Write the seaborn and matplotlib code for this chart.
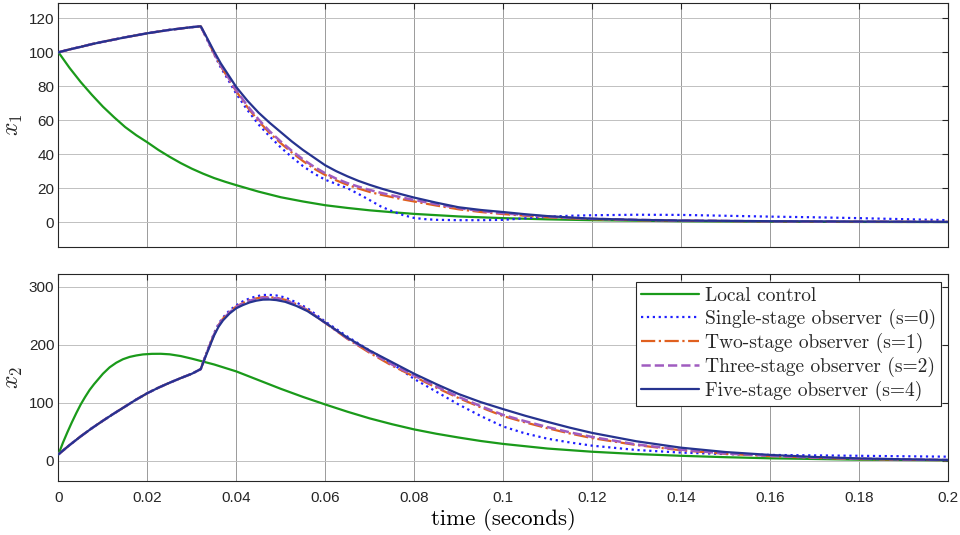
import matplotlib
matplotlib.use("Agg")
import matplotlib.pyplot as plt
import numpy as np
import pandas as pd
import seaborn as sns

# ---------------- data ----------------
x_ticks = [0, 0.02, 0.04, 0.06, 0.08, 0.1, 0.12, 0.14, 0.16, 0.18, 0.2]
x_tick_labels = ["0", "0.02", "0.04", "0.06", "0.08", "0.1", "0.12", "0.14", "0.16", "0.18", "0.2"]
y1_ticks = [0, 20, 40, 60, 80, 100, 120]
y2_ticks = [0, 100, 200, 300]

series_names = ["Local control", "Single-stage observer (s=0)", "Two-stage observer (s=1)",
                "Three-stage observer (s=2)", "Five-stage observer (s=4)"]

# local control, state x1
t_local1 = [0, 0.0025, 0.005, 0.0075, 0.01, 0.0125, 0.015, 0.0175, 0.02, 0.0225, 0.025,
            0.0275, 0.03, 0.0325, 0.035, 0.0375, 0.04, 0.045, 0.05, 0.055, 0.06, 0.065,
            0.07, 0.075, 0.08, 0.09, 0.1, 0.11, 0.12, 0.14, 0.16, 0.18, 0.2]
x1_local = [100, 90.8, 82.5, 75, 68, 61.8, 56, 51.2, 47, 42.5, 38.5,
            34.8, 31.5, 28.6, 26, 23.8, 21.8, 18, 14.7, 12.2, 10, 8.4,
            7.0, 5.9, 4.9, 3.4, 2.4, 1.7, 1.2, 0.6, 0.3, 0.15, 0.1]

# local control, state x2
t_local2 = [0, 0.001, 0.002, 0.003, 0.004, 0.005, 0.006, 0.007, 0.008, 0.009, 0.01,
            0.0115, 0.013, 0.0145, 0.016, 0.0175, 0.019, 0.021, 0.023, 0.025, 0.0275,
            0.03, 0.0325, 0.035, 0.0375, 0.04, 0.045, 0.05, 0.055, 0.06, 0.065, 0.07,
            0.075, 0.08, 0.085, 0.09, 0.095, 0.1, 0.11, 0.12, 0.13, 0.14, 0.15, 0.16,
            0.18, 0.2]
x2_local = [11, 31, 49, 66, 82, 97, 110, 122, 132, 141, 150,
            161, 169, 175, 179, 181.5, 183.3, 184.3, 184.4, 183.5, 180.5,
            176, 171, 166, 160, 154, 139, 124, 110, 97, 84.5, 73,
            63, 54, 46.5, 40, 34, 29, 21, 15.5, 11.5, 8.5, 6.1, 4.2,
            1.8, 0.7]

# observers: common part before the switch
t_pre = [0, 0.0025, 0.005, 0.0075, 0.01, 0.0125, 0.015, 0.0175, 0.02, 0.0225, 0.025,
         0.0275, 0.03, 0.032]
x1_pre = [100, 101.7, 103.2, 104.8, 106.2, 107.5, 108.8, 110, 111.2, 112.2, 113.2,
          114, 114.8, 115.3]
x2_pre = [11, 27, 42, 56, 69, 81.5, 93.5, 105.5, 116.5, 126, 134.5,
          142.5, 150, 158]

# observers after the switch, state x1
t_post1 = [0.033, 0.034, 0.035, 0.0365, 0.038, 0.04, 0.0425, 0.045, 0.0475, 0.05, 0.0525,
           0.055, 0.0575, 0.06, 0.0625, 0.065, 0.0675, 0.07, 0.0725, 0.075, 0.0775, 0.08,
           0.085, 0.09, 0.095, 0.1, 0.105, 0.11, 0.115, 0.12, 0.13, 0.14, 0.16, 0.18, 0.2]
x1_two = [110, 104.6, 99.2, 91.8, 85.5, 77, 67.7, 59.5, 52.5, 46.5, 41,
          36, 31.5, 27.8, 24.6, 22, 19.8, 17.8, 16.2, 14.8, 13.4, 12.2,
          9.8, 7.6, 6, 4.8, 3.8, 2.9, 2.3, 1.8, 1.2, 0.9, 0.5, 0.3, 0.2]
x1_three = [110, 104.8, 99.5, 92.3, 86, 77.5, 68.5, 60.5, 53.5, 47.5, 42,
            37, 32.6, 28.8, 25.6, 23, 20.9, 19, 17.3, 15.8, 14.4, 13.1,
            10.6, 8.3, 6.6, 5.3, 4.2, 3.3, 2.6, 2, 1.4, 1, 0.5, 0.3, 0.2]
x1_five = [110.5, 105.5, 100.5, 93.5, 87.5, 79.5, 71.5, 64.5, 58.5, 53, 47.5,
           42.5, 38, 33.5, 30, 27, 24.3, 22, 19.9, 18, 16.2, 14.5,
           11.5, 8.8, 7.2, 6, 4.7, 3.6, 2.8, 2.1, 1.4, 1, 0.6, 0.4, 0.2]
t_single1 = [0.033, 0.034, 0.035, 0.0365, 0.038, 0.04, 0.0425, 0.045, 0.0475, 0.05, 0.0525,
             0.055, 0.0575, 0.06, 0.0625, 0.065, 0.0675, 0.07, 0.0725, 0.075, 0.0775, 0.08,
             0.0825, 0.085, 0.09, 0.095, 0.1, 0.105, 0.11, 0.115, 0.12, 0.13, 0.14, 0.15,
             0.16, 0.17, 0.18, 0.19, 0.2]
x1_single = [109.8, 104.3, 98.8, 91, 84.5, 75.5, 66, 57.5, 50.5, 44, 38.3,
             33, 28.6, 25, 22.5, 20, 16.6, 13, 9.3, 6.5, 4.2, 2.5,
             1.8, 1.4, 1.2, 1.2, 1.4, 2.3, 3.2, 3.8, 4.1, 4.4, 4.3, 3.8,
             3.3, 2.9, 2.4, 1.8, 1.2]

# observers after the switch, state x2
t_post2 = [0.033, 0.034, 0.035, 0.036, 0.037, 0.0385, 0.04, 0.0415, 0.043, 0.0445, 0.046,
           0.0475, 0.049, 0.051, 0.0535, 0.056, 0.06, 0.065, 0.07, 0.075, 0.08, 0.085,
           0.09, 0.095, 0.1, 0.105, 0.11, 0.115, 0.12, 0.13, 0.14, 0.15, 0.16, 0.17,
           0.18, 0.19, 0.2]
x2_single = [180, 200, 220, 236, 247, 259.5, 268, 275, 280, 283.5, 285.8,
             286, 285, 281.5, 273, 263, 240, 214, 190, 168, 141, 119,
             97, 77, 59, 47, 38, 31.5, 26, 18.5, 14, 11.5, 10, 9.2,
             8.5, 7.7, 7]
x2_two = [179.5, 199, 218.5, 234, 245, 257, 266, 272, 277, 280, 282,
          282, 281, 277.5, 270, 260, 237.5, 210, 186, 164, 145, 126,
          108, 92, 77, 66, 56, 47, 39, 27, 18, 12, 8, 5,
          3, 1.8, 1]
x2_three = [179, 198.5, 218, 233, 244, 256, 265, 271, 276, 279, 281,
            281, 280, 276.5, 269, 259.5, 238, 211, 188, 166, 147, 128,
            110, 94, 79, 68, 58, 49, 41, 28, 19, 12.5, 8.5, 5.5,
            3.5, 2.2, 1.2]
x2_five = [178, 197, 216, 231, 242, 254, 263, 268.5, 273, 276, 277.8,
           278, 277, 274, 267, 258, 238, 212, 190, 170, 150, 132,
           115, 101, 89, 77.5, 67, 57, 48, 33.5, 22.5, 15, 10, 6.5,
           4, 2.5, 1.5]

# ---------------- style ----------------
colors = ["#1a9a1a", "#1f1fff", "#e0601f", "#a05cc0", "#26338f"]
styles = ["-", ":", "-.", "--", "-"]
widths = [1.6, 1.6, 1.6, 1.8, 1.6]

sns.set_theme(style="white")
plt.rcParams["font.family"] = ["Liberation Sans", "DejaVu Sans"]
plt.rcParams["mathtext.fontset"] = "cm"
plt.rcParams["axes.unicode_minus"] = False

fig = plt.figure(figsize=(9.6, 5.35), dpi=100)
ax1 = fig.add_axes([0.0609, 0.5389, 0.9263, 0.4561])
ax2 = fig.add_axes([0.0609, 0.1009, 0.9263, 0.3863])


def series_frame(t, v):
    return pd.DataFrame({"t": t, "v": v})


top = [
    series_frame(t_local1, x1_local),
    series_frame(t_pre + t_single1, x1_pre + x1_single),
    series_frame(t_pre + t_post1, x1_pre + x1_two),
    series_frame(t_pre + t_post1, x1_pre + x1_three),
    series_frame(t_pre + t_post1, x1_pre + x1_five),
]
bottom = [
    series_frame(t_local2, x2_local),
    series_frame(t_pre + t_post2, x2_pre + x2_single),
    series_frame(t_pre + t_post2, x2_pre + x2_two),
    series_frame(t_pre + t_post2, x2_pre + x2_three),
    series_frame(t_pre + t_post2, x2_pre + x2_five),
]

for ax, frames in ((ax1, top), (ax2, bottom)):
    for i, df in enumerate(frames):
        sns.lineplot(data=df, x="t", y="v", ax=ax, color=colors[i], linestyle=styles[i],
                     linewidth=widths[i], label=series_names[i], estimator=None,
                     sort=False, legend=False, zorder=3 + i)

frame_col = "#262626"
for ax in (ax1, ax2):
    ax.set_xlim(0, 0.2)
    ax.set_xticks(x_ticks)
    ax.grid(True, axis="x", color="#9a9a9a", linewidth=0.7)
    ax.grid(True, axis="y", color="#c0c0c0", linewidth=0.7)
    ax.set_axisbelow(True)
    for s in ax.spines.values():
        s.set_visible(True)
        s.set_color(frame_col)
        s.set_linewidth(0.8)
    ax.tick_params(direction="in", length=4, width=0.8, color=frame_col,
                   top=True, right=True, labelsize=11, labelcolor=frame_col)
    ax.tick_params(axis="y", pad=3)
    ax.tick_params(axis="x", pad=7)
    ax.set_xlabel("")

ax1.set_ylim(-14.4, 129.2)
ax1.set_yticks(y1_ticks)
ax1.set_yticklabels([str(v) for v in y1_ticks])
ax1.set_xticklabels([])
ax1.set_ylabel(r"$x_1$", fontsize=17, labelpad=2.5)

ax2.set_ylim(-35, 321.4)
ax2.set_yticks(y2_ticks)
ax2.set_yticklabels([str(v) for v in y2_ticks])
ax2.set_xticklabels(x_tick_labels)
ax2.set_ylabel(r"$x_2$", fontsize=17, labelpad=2.5)
ax2.set_xlabel("time (seconds)", fontsize=16.5, family="cmr10", color="#000000", labelpad=2)

handles = ax2.get_lines()[:5]
leg = ax2.legend(handles, series_names, loc="upper right", bbox_to_anchor=(0.9925, 0.9613),
                 borderaxespad=0, prop={"family": "cmr10", "size": 14}, frameon=True,
                 fancybox=False, framealpha=1, edgecolor=frame_col, handlelength=3.0,
                 handletextpad=0.3, labelspacing=0.2, borderpad=0.25)
leg.get_frame().set_linewidth(0.8)

fig.savefig("out.png", dpi=100)
